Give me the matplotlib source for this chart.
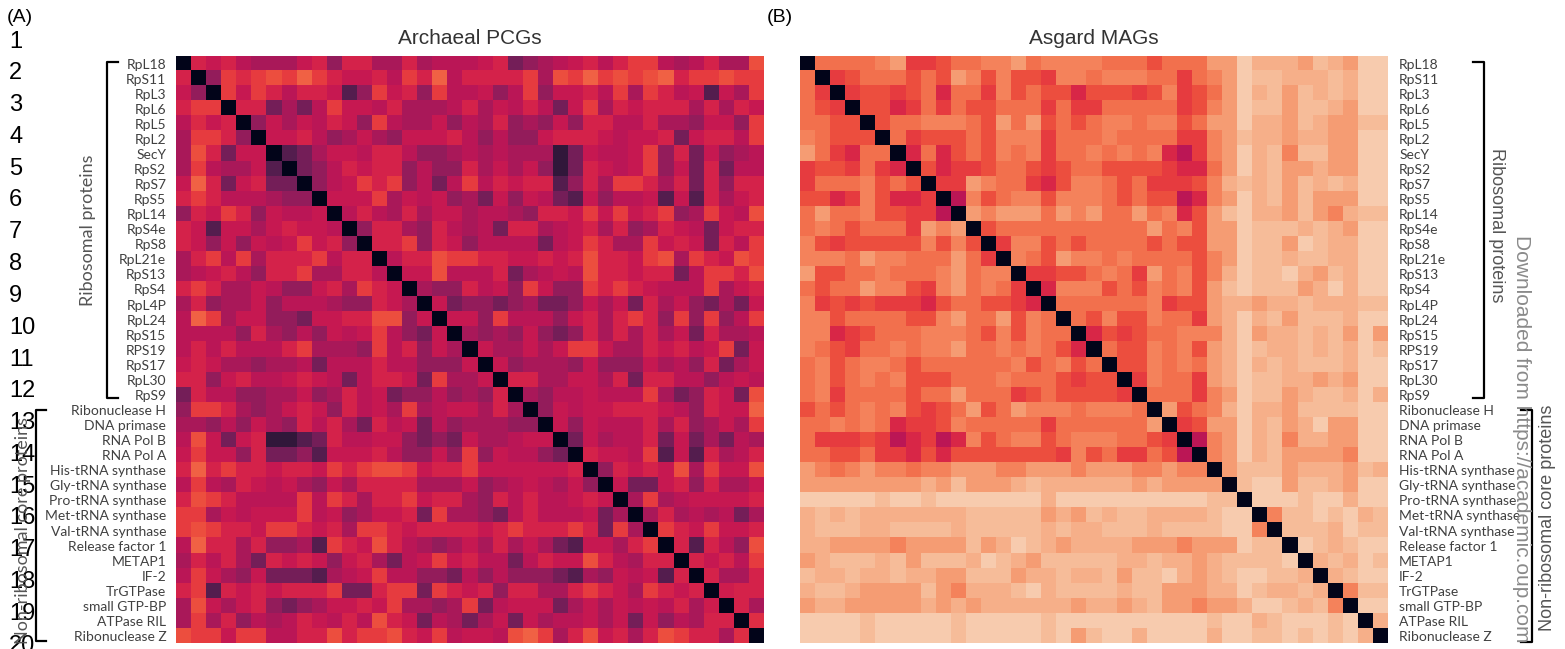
import numpy as np
import matplotlib
matplotlib.use("Agg")
import matplotlib.pyplot as plt
from matplotlib.lines import Line2D
import seaborn as sns

# ---------------- data ----------------
proteins = ["RpL18", "RpS11", "RpL3", "RpL6", "RpL5", "RpL2", "SecY", "RpS2", "RpS7",
            "RpS5", "RpL14", "RpS4e", "RpS8", "RpL21e", "RpS13", "RpS4", "RpL4P", "RpL24",
            "RpS15", "RPS19", "RpS17", "RpL30", "RpS9", "Ribonuclease H", "DNA primase",
            "RNA Pol B", "RNA Pol A", "His-tRNA synthase", "Gly-tRNA synthase",
            "Pro-tRNA synthase", "Met-tRNA synthase", "Val-tRNA synthase",
            "Release factor 1", "METAP1", "IF-2", "TrGTPase", "small GTP-BP",
            "ATPase RIL", "Ribonuclease Z"]

# upper triangles (row i -> columns i+1 .. 38), score on a 0-100 scale
archaeal_upper = [
    [53,49,53,46,42,42,42,49,53,37,53,53,42,42,53,42,46,46,46,49,53,30,37,42,46,49,53,46,53,59,59,46,42,46,53,42,42,63],
    [37,59,55,59,63,59,67,59,53,49,49,53,46,59,53,67,46,53,53,53,53,59,42,63,59,67,59,63,59,63,67,53,59,59,63,59,59],
    [59,49,59,53,46,53,53,49,22,37,59,49,53,37,59,46,46,49,37,46,59,37,49,49,53,46,59,42,59,53,46,49,22,49,42,59],
    [53,53,30,42,30,46,59,49,49,46,53,42,42,42,46,53,42,49,46,53,46,30,49,59,42,53,49,53,53,53,42,53,42,53,49],
    [37,49,42,49,46,53,49,37,59,46,42,42,49,37,46,42,53,37,42,37,49,37,53,53,46,46,53,42,42,37,49,49,37,59],
    [49,49,53,46,37,42,49,42,37,49,49,49,53,46,37,46,37,37,49,53,53,53,49,46,49,49,53,30,49,53,53,46,59],
    [22,30,42,49,49,46,53,53,46,37,37,42,46,42,46,42,42,42,13,30,49,46,46,49,59,37,53,30,49,37,42,46],
    [30,37,46,53,49,53,53,37,46,37,37,53,42,49,42,49,37,13,30,53,49,46,49,59,37,49,30,53,30,46,46],
    [37,46,49,59,53,59,37,46,30,46,59,46,53,49,53,53,22,37,53,42,59,59,53,42,53,30,53,37,53,53],
    [49,49,49,59,42,49,46,49,37,42,30,49,37,49,46,30,22,49,37,46,46,49,22,49,22,53,42,49,53],
    [46,53,46,42,53,42,49,49,42,46,46,42,37,53,53,49,59,49,59,49,53,59,37,42,59,49,46,63],
    [37,53,53,42,37,53,46,42,46,30,53,53,42,46,49,53,42,53,37,42,53,49,46,30,49,53,53],
    [53,53,59,37,53,49,37,46,46,46,46,30,46,49,59,53,42,42,59,49,53,49,30,53,46,59],
    [46,53,53,63,59,59,53,53,49,49,53,49,53,63,53,53,49,59,63,42,59,53,49,63,59],
    [49,49,63,46,46,46,53,30,42,46,49,46,63,53,53,49,53,53,30,46,59,59,53,63],
    [42,37,37,53,46,49,37,59,49,37,37,59,53,59,53,49,46,46,46,59,42,49,53],
    [49,30,37,37,30,37,42,30,30,37,49,42,49,30,53,42,49,37,30,42,30,49],
    [49,49,37,59,46,46,46,37,49,53,42,53,59,53,37,59,37,59,37,46,59],
    [42,37,42,37,49,37,30,37,53,42,53,42,53,42,49,30,53,42,42,46],
    [49,42,42,49,42,49,59,59,49,42,42,53,49,53,46,49,59,30,49],
    [49,37,42,42,42,37,49,37,37,37,49,42,46,37,53,30,42,49],
    [53,53,42,42,49,49,42,53,30,53,53,46,46,37,46,49,46],
    [42,37,46,46,49,46,46,46,59,42,30,37,53,49,30,63],
    [37,49,46,49,49,53,53,53,49,46,37,53,49,49,67],
    [49,37,49,46,46,46,53,42,53,37,42,49,42,59],
    [30,49,42,46,46,53,30,49,30,42,30,46,42],
    [53,49,49,46,59,22,49,22,53,42,46,53],
    [37,53,49,53,49,63,42,59,49,49,63],
    [49,30,30,49,53,37,53,42,42,49],
    [42,59,42,46,49,49,49,49,53],
    [42,53,42,46,42,46,30,42],
    [59,53,49,59,49,49,53],
    [53,22,53,46,37,63],
    [53,49,53,46,59],
    [53,42,42,53],
    [51,53,53],
    [53,42],
    [56],
]

asgard_upper = [
    [71,71,71,71,75,81,60,60,64,71,71,75,75,81,71,75,75,75,75,71,71,71,64,71,71,71,81,81,93,86,86,86,81,89,86,81,93,93],
    [60,64,71,71,71,64,71,64,81,75,64,75,64,64,60,75,75,71,75,75,75,71,71,60,71,75,81,93,89,89,86,86,86,89,86,93,93],
    [60,64,64,60,64,71,55,71,71,60,75,64,71,64,64,55,64,64,64,60,64,75,60,64,71,81,93,86,89,81,89,86,89,86,93,93],
    [64,64,55,60,71,60,71,64,64,71,71,71,60,71,60,60,71,71,71,71,71,60,64,75,81,93,89,89,81,89,89,86,81,93,93],
    [64,71,71,75,75,75,71,64,81,71,81,64,71,64,71,75,75,71,75,75,64,71,81,81,93,86,86,81,89,86,81,81,89,89],
    [71,60,64,64,64,71,64,75,75,75,60,71,71,71,75,71,71,71,71,60,60,75,81,89,86,86,81,86,86,81,81,93,93],
    [55,71,55,64,71,64,75,71,75,60,71,71,75,71,75,71,75,55,47,60,75,81,93,86,89,75,89,89,81,81,93,93],
    [64,55,60,60,64,71,71,64,60,64,71,71,64,64,64,64,60,55,55,71,81,93,86,89,81,81,86,81,81,93,93],
    [60,60,81,75,71,71,60,55,64,75,75,71,64,71,60,60,60,64,75,86,89,86,89,81,89,86,89,86,93,93],
    [47,75,64,71,75,75,64,75,75,75,71,64,71,64,64,47,55,75,81,93,86,89,81,89,81,81,81,93,93],
    [81,75,81,81,81,71,81,75,81,71,71,81,71,75,55,64,81,89,93,86,86,81,89,81,75,86,89,89],
    [64,71,71,71,71,71,71,71,71,71,71,81,71,75,64,81,81,93,89,89,89,86,89,86,81,93,93],
    [60,75,75,64,71,64,71,71,71,71,64,71,64,64,81,81,93,89,89,81,93,89,86,86,93,93],
    [75,71,64,81,75,75,71,75,71,71,71,71,64,75,81,93,89,89,86,89,89,86,86,93,93],
    [60,60,64,64,71,75,71,60,81,71,75,64,75,86,93,89,89,93,86,81,89,86,93,93],
    [55,75,75,75,64,71,64,75,71,75,64,81,89,93,89,89,89,81,86,93,86,93,93],
    [71,71,71,71,71,71,75,60,64,64,81,86,86,81,86,86,89,86,86,86,89,89],
    [71,64,75,64,64,75,71,71,60,81,86,93,86,89,81,89,89,89,86,93,93],
    [55,64,60,64,71,71,75,75,75,86,93,81,86,86,89,86,89,81,93,81],
    [71,64,64,75,71,75,64,81,86,93,89,86,86,89,86,89,86,93,89],
    [64,64,75,71,75,71,81,86,93,86,89,86,89,89,89,86,93,93],
    [60,75,71,71,60,81,86,93,89,89,86,86,81,86,81,93,93],
    [71,71,71,60,75,81,93,89,89,81,86,89,89,86,93,86],
    [81,64,71,75,86,93,86,86,81,89,89,89,89,93,93],
    [60,64,81,81,93,86,89,81,86,93,81,81,93,93],
    [47,75,81,93,86,89,75,86,86,81,81,93,93],
    [75,81,93,86,89,81,81,81,81,75,93,93],
    [81,89,89,89,81,86,86,86,81,89,86],
    [89,93,93,81,89,89,86,81,93,93],
    [93,93,93,89,93,93,86,93,93],
    [75,89,89,93,89,93,86,89],
    [89,89,89,86,93,89,89],
    [93,89,86,89,93,93],
    [86,89,86,93,89],
    [86,89,93,93],
    [75,89,89],
    [93,93],
    [86],
]


def symmetric(upper):
    n = len(upper) + 1
    m = np.zeros((n, n))
    for i, row in enumerate(upper):
        m[i, i + 1:] = row
        m[i + 1:, i] = row
    return m


arch = symmetric(archaeal_upper)
asg = symmetric(asgard_upper)

# ---------------- figure ----------------
W, H = 1565, 649
fig = plt.figure(figsize=(W / 100, H / 100), dpi=100)


def fx(x):
    return x / W


def fy(y):
    return 1 - y / H


cmap = sns.color_palette("rocket", as_cmap=True)
label_font = "Lato"
label_color = "#404040"

top, bottom = 56, 643.5
axL = fig.add_axes([fx(176), fy(bottom), fx(763.5) - fx(176), fy(top) - fy(bottom)])
axR = fig.add_axes([fx(800), fy(bottom), fx(1388) - fx(800), fy(top) - fy(bottom)])

for ax, mat, title, vmax in [(axL, arch, "Archaeal PCGs", 100), (axR, asg, "Asgard MAGs", 101.5)]:
    ax.imshow(mat, cmap=cmap, vmin=0, vmax=vmax, aspect="auto", interpolation="nearest")
    ax.set_xticks([])
    ax.set_yticks(np.arange(len(proteins)))
    ax.set_yticklabels(proteins, fontsize=10, family=label_font, color=label_color)
    ax.tick_params(axis="y", length=0, pad=7)
    for s in ax.spines.values():
        s.set_visible(False)
    ax.set_title(title, fontsize=15, family="Liberation Sans", color="#333333", pad=9)

axR.yaxis.tick_right()
axR.tick_params(axis="y", length=0, pad=8)

# panel letters
fig.text(fx(7), fy(17), "(A)", fontsize=14, family="Liberation Sans", va="center", ha="left")
fig.text(fx(767), fy(17), "(B)", fontsize=14, family="Liberation Sans", va="center", ha="left")

# page line numbers
for k in range(1, 21):
    fig.text(fx(9), fy(41.5 + 31.8 * (k - 1)), str(k), fontsize=17,
             family="Liberation Sans", va="center", ha="left", color="black")


def bracket(x, y0, y1, tick, lw=1.6):
    fig.add_artist(Line2D([fx(x + tick), fx(x), fx(x), fx(x + tick)],
                          [fy(y0), fy(y0), fy(y1), fy(y1)], color="black", lw=lw))


# left brackets
bracket(107, 62, 398, 11)
fig.text(fx(88), fy(230), "Ribosomal proteins", rotation=90, fontsize=13, family=label_font,
         color="#555555", va="center", ha="center")
bracket(36, 410, 641, 10)
fig.text(fx(23), fy(530), "Non-ribosomal core proteins", rotation=90, fontsize=13,
         family=label_font, color="#555555", va="center", ha="center")

# right brackets
bracket(1484, 62, 398, -11)
fig.text(fx(1497), fy(225), "Ribosomal proteins", rotation=-90, fontsize=13,
         family="Liberation Sans", color="#555555", va="center", ha="center")
bracket(1532, 410, 642, -11)
fig.text(fx(1547), fy(518), "Non-ribosomal core proteins", rotation=90, fontsize=13,
         family="Liberation Sans", color="#555555", va="center", ha="center")

fig.text(fx(1522), fy(235), "Downloaded from https://academic.oup.com", rotation=-90,
         fontsize=15, family="Liberation Sans", color="#8a8a8a", va="top", ha="center")

fig.savefig("out.png", dpi=100)
